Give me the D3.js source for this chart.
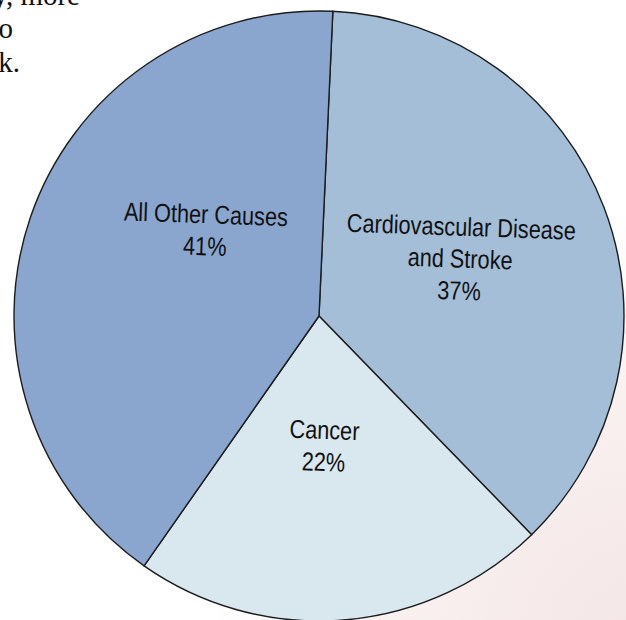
<!DOCTYPE html>
<html>
<head>
<meta charset="utf-8">
<script src="https://cdn.jsdelivr.net/npm/d3@7"></script>
<style>
  html, body { margin: 0; padding: 0; background: #fff; }
  svg { display: block; }
</style>
</head>
<body>
<svg id="chart" width="626" height="620"></svg>
<script>
// ---- data ----
const categories = ["Cardiovascular Disease and Stroke", "Cancer", "All Other Causes"];
const labelLines = [["Cardiovascular Disease", "and Stroke"], ["Cancer"], ["All Other Causes"]];
const values = [37, 22, 41];
const colors = ["#a4bed8", "#d9e7ef", "#8aa6cf"];
const bodyTextLines = ["ly, more", "to", "risk."];

// ---- layout ----
const W = 626, H = 620;
const cx = 319, cy = 316, R = 305;
const startDeg = 2.6;
// label anchor in polar coords (deg clockwise from top, radius)
const labelAnchor = [[70, 150], [178, 136], [305, 139]];
const lineH = 32;
const textRot = 2;
const narrow = 0.835;

const svg = d3.select("#chart");
const defs = svg.append("defs");
const grad = defs.append("radialGradient")
  .attr("id", "bg").attr("gradientUnits", "userSpaceOnUse")
  .attr("cx", 640).attr("cy", 640).attr("r", 430);
grad.append("stop").attr("offset", "0%").attr("stop-color", "#f4e6e6");
grad.append("stop").attr("offset", "60%").attr("stop-color", "#f9f1f0");
grad.append("stop").attr("offset", "100%").attr("stop-color", "#ffffff");
svg.append("rect").attr("width", W).attr("height", H).attr("fill", "url(#bg)");

// clipped body text at top-left
const bodyX = [80, 13, 20];
const bodyY = [5, 38, 72];
svg.append("g").selectAll("text").data(bodyTextLines).join("text")
  .attr("x", (d, i) => bodyX[i]).attr("y", (d, i) => bodyY[i])
  .attr("text-anchor", "end")
  .attr("font-family", "'Liberation Serif', 'DejaVu Serif', serif")
  .attr("font-size", 29).attr("fill", "#111")
  .text(d => d);

const toRad = d => d * Math.PI / 180;
const pie = d3.pie().sort(null).value(d => d)
  .startAngle(toRad(startDeg)).endAngle(toRad(startDeg + 360));
const arc = d3.arc().innerRadius(0).outerRadius(R);
const arcs = pie(values);

const g = svg.append("g").attr("transform", `translate(${cx},${cy})`);
g.selectAll("path").data(arcs).join("path")
  .attr("d", arc)
  .attr("fill", (d, i) => colors[i])
  .attr("stroke", "#1c1c1c")
  .attr("stroke-width", 1.4)
  .attr("stroke-linejoin", "round");

const labels = g.selectAll("g.lbl").data(arcs).join("g").attr("class", "lbl")
  .attr("transform", (d, i) => {
    const a = toRad(labelAnchor[i][0]), r = labelAnchor[i][1];
    return `translate(${r * Math.sin(a)},${-r * Math.cos(a)}) rotate(${textRot}) scale(${narrow},1)`;
  });
labels.each(function(d, i) {
  const lines = labelLines[i].concat([d3.format(".0f")(values[i]) + "%"]);
  const n = lines.length;
  const t = d3.select(this).append("text")
    .attr("text-anchor", "middle")
    .attr("font-family", "'Liberation Sans', Arial, sans-serif")
    .attr("font-size", 26)
    .attr("fill", "#111");
  lines.forEach((ln, k) => {
    t.append("tspan").attr("x", 0)
      .attr("y", (k - (n - 1) / 2) * lineH + 3)
      .text(ln);
  });
});
</script>
</body>
</html>
